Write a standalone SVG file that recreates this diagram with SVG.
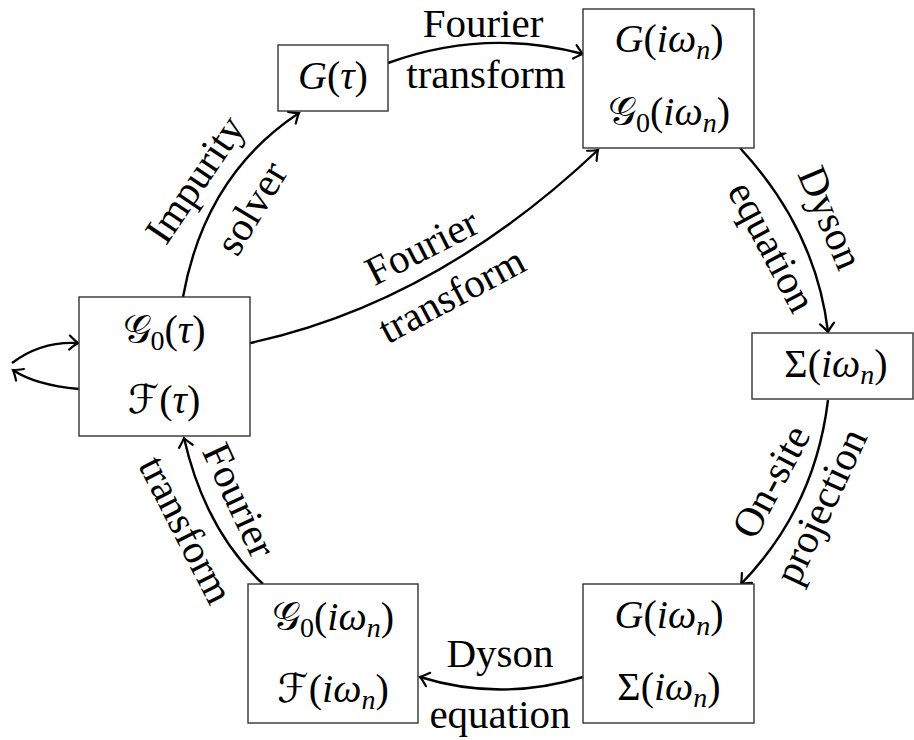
<svg xmlns="http://www.w3.org/2000/svg" width="914" height="740" viewBox="0 0 914 740">
<style>
.box{fill:#fff;stroke:#333;stroke-width:1.4}
.m,.l{font-family:"Liberation Serif","DejaVu Serif",serif;font-size:40px;fill:#000;text-anchor:middle}
.l{font-size:41px}
.i{font-style:italic}
.s{font-size:28px}
.cal{font-family:"DejaVu Serif","DejaVu Sans",serif;font-style:normal}
.c{fill:none;stroke:#000;stroke-width:2.4;marker-end:url(#a)}
</style>
<defs>
<marker id="a" markerUnits="userSpaceOnUse" orient="auto" refX="0" refY="0" markerWidth="20" markerHeight="20" viewBox="-10 -10 20 20" overflow="visible">
<path d="M-8.5,-7 Q-2.5,-1.5 0,0 Q-2.5,1.5 -8.5,7" fill="none" stroke="#000" stroke-width="2.2" stroke-linecap="round"/>
</marker>
</defs>

<g id="connectors">
<path class="c" d="M183,297 Q205,175 299,113"/>
<path class="c" d="M388,63 Q485,28 583,54"/>
<path class="c" d="M250,343 Q436,303 598,150"/>
<path class="c" d="M740,148 Q816,230 828,332"/>
<path class="c" d="M828,400 Q815,508 741,584"/>
<path class="c" d="M583,677 Q500,702 420,677"/>
<path class="c" d="M263,584 Q205,530 184,438"/>
<path class="c" d="M12,363 Q41,341 78,343"/>
<path class="c" d="M79,389 Q35,385 13,370"/>
<g id="labels">
<text class="l" transform="translate(206,187) rotate(-56)">Impurity</text>
<text class="l" transform="translate(263,215) rotate(-59)">solver</text>
<text class="l" x="483" y="37">Fourier</text>
<text class="l" x="486" y="88">transform</text>
<text class="l" transform="translate(428,259) rotate(-27)">Fourier</text>
<text class="l" transform="translate(458,307) rotate(-28)">transform</text>
<text class="l" transform="translate(818,223) rotate(67)">Dyson</text>
<text class="l" transform="translate(760,253) rotate(62)">equation</text>
<text class="l" transform="translate(783,488) rotate(-62)">On-site</text>
<text class="l" transform="translate(833,512) rotate(-65)">projection</text>
<text class="l" x="500" y="667">Dyson</text>
<text class="l" x="500" y="728">equation</text>
<text class="l" transform="translate(227,506) rotate(65)">Fourier</text>
<text class="l" transform="translate(174,536) rotate(63)">transform</text>
</g>
</g>

<g id="n-Gtau">
<rect class="box" x="278" y="45" width="110" height="66"/>
<text class="m" x="333" y="89"><tspan class="i">G</tspan>(<tspan class="i">τ</tspan>)</text>
</g>
<g id="n-Giw-G0iw">
<rect class="box" x="583" y="9" width="171" height="139"/>
<text class="m" x="669" y="52"><tspan class="i">G</tspan>(<tspan class="i">iω</tspan><tspan class="i s" dy="7">n</tspan><tspan dy="-7">)</tspan></text>
<text class="m" x="669" y="125"><tspan class="cal">𝒢</tspan><tspan class="s" dy="7">0</tspan><tspan dy="-7">(</tspan><tspan class="i">iω</tspan><tspan class="i s" dy="7">n</tspan><tspan dy="-7">)</tspan></text>
</g>
<g id="n-G0tau-Ftau">
<rect class="box" x="79" y="297" width="171" height="139"/>
<text class="m" x="164" y="343"><tspan class="cal">𝒢</tspan><tspan class="s" dy="7">0</tspan><tspan dy="-7">(</tspan><tspan class="i">τ</tspan>)</text>
<text class="m" x="164" y="413"><tspan class="cal">ℱ</tspan>(<tspan class="i">τ</tspan>)</text>
</g>
<g id="n-Sigma">
<rect class="box" x="752" y="333" width="161" height="66"/>
<text class="m" x="836" y="377">Σ(<tspan class="i">iω</tspan><tspan class="i s" dy="7">n</tspan><tspan dy="-7">)</tspan></text>
</g>
<g id="n-Giw-Siw">
<rect class="box" x="583" y="584" width="171" height="139"/>
<text class="m" x="669" y="628"><tspan class="i">G</tspan>(<tspan class="i">iω</tspan><tspan class="i s" dy="7">n</tspan><tspan dy="-7">)</tspan></text>
<text class="m" x="669" y="700">Σ(<tspan class="i">iω</tspan><tspan class="i s" dy="7">n</tspan><tspan dy="-7">)</tspan></text>
</g>
<g id="n-G0iw-Fiw">
<rect class="box" x="248" y="584" width="170" height="139"/>
<text class="m" x="333" y="630"><tspan class="cal">𝒢</tspan><tspan class="s" dy="7">0</tspan><tspan dy="-7">(</tspan><tspan class="i">iω</tspan><tspan class="i s" dy="7">n</tspan><tspan dy="-7">)</tspan></text>
<text class="m" x="333" y="702"><tspan class="cal">ℱ</tspan>(<tspan class="i">iω</tspan><tspan class="i s" dy="7">n</tspan><tspan dy="-7">)</tspan></text>
</g>
</svg>
